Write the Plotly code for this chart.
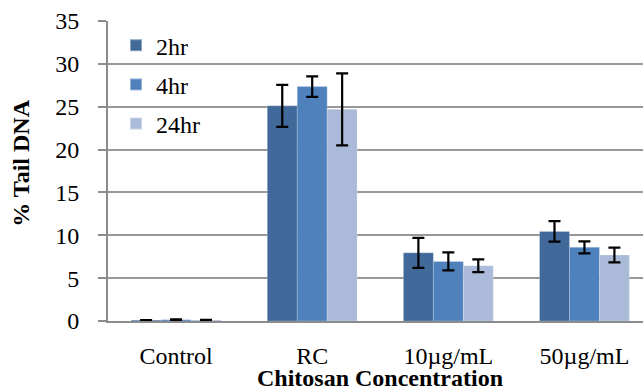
import plotly.graph_objects as go

categories = ["Control", "RC", "10µg/mL", "50µg/mL"]
series_names = ["2hr", "4hr", "24hr"]
values_2hr = [0.1, 25.1, 7.95, 10.45]
values_4hr = [0.15, 27.35, 6.95, 8.6]
values_24hr = [0.12, 24.7, 6.45, 7.7]
err_2hr = [0.0, 2.45, 1.75, 1.2]
err_4hr = [0.05, 1.2, 1.05, 0.7]
err_24hr = [0.0, 4.2, 0.75, 0.85]
colors = ["#41699A", "#4F81BD", "#AABAD8"]
y_ticks = [0, 5, 10, 15, 20, 25, 30, 35]

fig = go.Figure()
for name, vals, errs, col in zip(series_names, [values_2hr, values_4hr, values_24hr],
                                 [err_2hr, err_4hr, err_24hr], colors):
    fig.add_trace(go.Bar(
        x=categories, y=vals, name=name, legendgroup=name,
        marker=dict(color=col, line=dict(color="rgba(255,255,255,0.4)", width=0.5)),
        error_y=dict(type="data", array=errs, visible=True, color="black",
                     thickness=2.2, width=6),
    ))

font_family = "Liberation Serif, Times New Roman, serif"
FS = 24
fig.update_layout(
    width=643, height=392,
    margin=dict(l=108, r=0, t=21, b=71),
    paper_bgcolor="white", plot_bgcolor="white",
    barmode="group", bargap=0.34, bargroupgap=0,
    font=dict(family=font_family, size=FS, color="black"),
    showlegend=True,
    legend=dict(x=0.015, y=0.993, xanchor="left", yanchor="top",
                bgcolor="rgba(0,0,0,0)", font=dict(size=FS),
                tracegroupgap=5, itemsizing="constant"),
    xaxis=dict(range=[-0.5, 3.43], showgrid=False, showline=True,
               linecolor="#8C8C8C", linewidth=2, ticks="", ticklen=0,
               tickfont=dict(size=FS), zeroline=False, ticklabelstandoff=12,
               automargin=False),
    yaxis=dict(range=[0, 35], tickvals=y_ticks, showgrid=True,
               gridcolor="#989898", gridwidth=1.5, showline=True,
               linecolor="#8C8C8C", linewidth=2, ticks="outside", ticklen=8,
               tickcolor="#8C8C8C", tickwidth=1.5, zeroline=False,
               tickfont=dict(size=FS), ticklabelstandoff=14, automargin=False),
    annotations=[
        dict(text="<b>Chitosan Concentration</b>", xref="paper", yref="paper",
             x=0.508, y=-0.19, xanchor="center", yanchor="middle",
             showarrow=False, font=dict(size=FS)),
        dict(text="<b>% Tail DNA</b>", xref="paper", yref="paper",
             x=-0.163, y=0.527, xanchor="center", yanchor="middle",
             textangle=-90, showarrow=False, font=dict(size=FS)),
    ],
)

fig.write_html("out.html", config={"displayModeBar": False},
               post_script="document.body.style.margin='0px';document.body.style.overflow='hidden';")
